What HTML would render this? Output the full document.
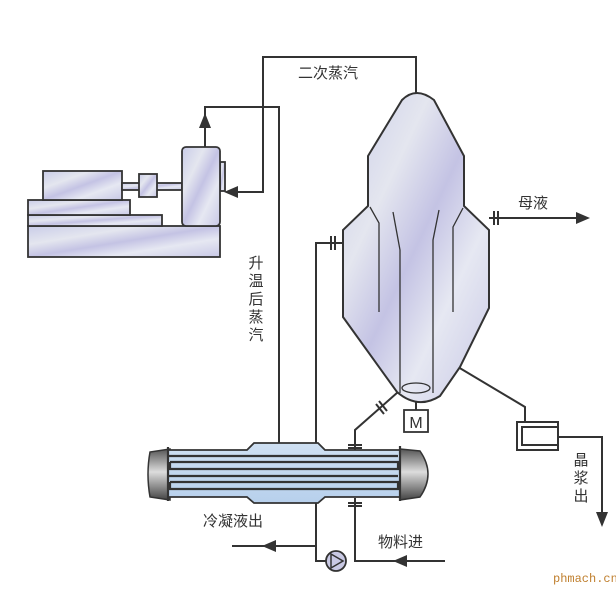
<!DOCTYPE html>
<html><head><meta charset="utf-8"><style>
html,body{margin:0;padding:0;background:#fff;}
svg{display:block;}
text{font-family:"Liberation Sans","Noto Sans CJK SC",sans-serif;fill:#333;}
</style></head><body>
<svg width="616" height="589" viewBox="0 0 616 589" xmlns="http://www.w3.org/2000/svg">
<defs>
<linearGradient id="g1" x1="0" y1="0" x2="1" y2="1">
<stop offset="0" stop-color="#c9cce8"/><stop offset="0.3" stop-color="#e4e6ef"/><stop offset="0.5" stop-color="#c4c3e4"/><stop offset="0.7" stop-color="#e6e8f2"/><stop offset="1" stop-color="#c8c8e6"/>
</linearGradient>
<linearGradient id="cap" x1="0" y1="0" x2="0" y2="1">
<stop offset="0" stop-color="#555"/><stop offset="0.45" stop-color="#ddd"/><stop offset="1" stop-color="#444"/>
</linearGradient>
<linearGradient id="tube" x1="0" y1="0" x2="0" y2="1">
<stop offset="0" stop-color="#cfe0f2"/><stop offset="1" stop-color="#b7d0ec"/>
</linearGradient>
</defs>
<g stroke="#333" stroke-width="2" fill="none">
<polyline points="416,93 416,57 263,57 263,192 232,192"/>
<polyline points="205,147 205,107 279,107 279,445"/>
<polyline points="343,243 316,243 316,445"/>
<line x1="489" y1="218" x2="580" y2="218"/>
<polyline points="355,450 355,430 372,415 398,392"/>
<polyline points="355,498 355,561 445,561"/>
<polyline points="326,561 316,561 316,498"/>
<line x1="316" y1="546" x2="232" y2="546"/>
<polyline points="458,367 525,407 525,422"/>
<polyline points="558,437 602,437 602,515"/>
<line x1="416" y1="392" x2="416" y2="410"/>
</g>
<g fill="#333">
<polygon points="590,218 576,212 576,224"/>
<polygon points="205,113 199,128 211,128"/>
<polygon points="224,192 238,186 238,198"/>
<polygon points="262,546 276,540 276,552"/>
<polygon points="393,561 407,555 407,567"/>
<polygon points="602,527 596,512 608,512"/>
</g>
<g stroke="#333" stroke-width="1.8" fill="url(#g1)">
<rect x="28" y="226" width="192" height="31"/>
<rect x="28" y="215" width="134" height="11"/>
<rect x="28" y="200" width="102" height="15"/>
<rect x="43" y="171" width="79" height="29"/>
<rect x="122" y="183" width="60" height="7"/>
<rect x="139" y="174" width="18" height="23"/>
<rect x="220" y="162" width="5" height="29"/>
<rect x="182" y="147" width="38" height="79" rx="4"/>
</g>
<path d="M402,100 Q416,86 434,100 L464,156 L464,206 L489,230 L489,308 L460,367 L440,396 Q418,410 397,392 L343,317 L343,230 L368,206 L368,156 Z" fill="url(#g1)" stroke="#333" stroke-width="2"/>
<g stroke="#333" stroke-width="1.3" fill="none">
<polyline points="370,207 379,223 379,312"/>
<polyline points="393,212 400,250 400,393"/>
<polyline points="439,210 433,240 433,393"/>
<polyline points="463,208 453,227 453,312"/>
<ellipse cx="416" cy="388" rx="14" ry="5"/>
</g>
<g stroke="#333" stroke-width="2">
<line x1="494" y1="211" x2="494" y2="225"/><line x1="498" y1="211" x2="498" y2="225"/>
<line x1="331" y1="236" x2="331" y2="250"/><line x1="335" y1="236" x2="335" y2="250"/>
<line x1="376" y1="404" x2="384" y2="414"/><line x1="379" y1="401" x2="387" y2="411"/>
<line x1="348" y1="445" x2="362" y2="445"/><line x1="348" y1="448" x2="362" y2="448"/>
<line x1="348" y1="503" x2="362" y2="503"/><line x1="348" y1="506" x2="362" y2="506"/>
</g>
<rect x="404" y="410" width="24" height="22" fill="#fff" stroke="#333" stroke-width="1.8"/>
<text x="416" y="428" font-size="16" text-anchor="middle">M</text>
<rect x="517" y="422" width="41" height="28" fill="#fff" stroke="#333" stroke-width="2"/>
<rect x="522" y="427" width="36" height="18" fill="#fff" stroke="#333" stroke-width="2"/>
<path d="M150,452 Q146,474 150,497 L170,500 L170,449 Z" fill="url(#cap)" stroke="#333" stroke-width="1.5"/>
<path d="M400,449 L420,451 Q436,474 420,497 L400,500 Z" fill="url(#cap)" stroke="#333" stroke-width="1.5"/>
<path d="M168,450 L247,450 L254,443 L318,443 L325,450 L400,450 L400,497 L325,497 L318,503 L254,503 L247,497 L168,497 Z" fill="url(#tube)" stroke="#333" stroke-width="1.8"/>
<g stroke="#333" stroke-width="2.2" fill="none">
<line x1="168" y1="456" x2="398" y2="456"/>
<polyline points="170,462 398,462 398,469 170,469 170,462"/>
<line x1="168" y1="476" x2="398" y2="476"/>
<polyline points="170,482 398,482 398,489 170,489 170,482"/>
<line x1="168" y1="447" x2="168" y2="501"/>
<line x1="400" y1="446" x2="400" y2="501"/>
</g>
<circle cx="336" cy="561" r="10" fill="#c9c9e4" stroke="#333" stroke-width="1.8"/>
<polygon points="331,554 331,568 343,561" fill="none" stroke="#333" stroke-width="1.5"/>
<text x="298" y="78" font-size="15">二次蒸汽</text>
<text x="518" y="208" font-size="15">母液</text>
<g font-size="15" text-anchor="middle">
<text x="256" y="268">升</text><text x="256" y="286">温</text><text x="256" y="304">后</text><text x="256" y="322">蒸</text><text x="256" y="340">汽</text>
<text x="581" y="465">晶</text><text x="581" y="483">浆</text><text x="581" y="501">出</text>
</g>
<text x="203" y="526" font-size="15">冷凝液出</text>
<text x="378" y="547" font-size="15">物料进</text>
<text x="553" y="582" font-size="12" style="fill:#c08030;font-family:'Liberation Mono',monospace">phmach.cn</text>
</svg>
</body></html>
